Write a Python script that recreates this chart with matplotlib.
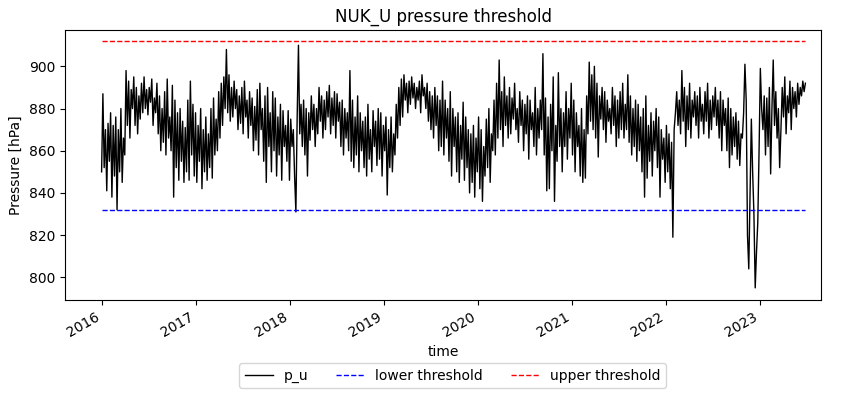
import matplotlib
matplotlib.use("Agg")
import matplotlib.pyplot as plt
import matplotlib.dates as mdates
import numpy as np
import pandas as pd

# p_u readings, ~6 per month
p_2016 = [850, 887, 852, 870, 841, 873,
          855, 878, 838, 872, 848, 876,
          832, 870, 850, 880, 845, 866,
          858, 898, 872, 893, 866, 889,
          880, 895, 872, 890, 868, 886,
          875, 892, 878, 895, 880, 889,
          877, 890, 883, 894, 872, 885,
          878, 892, 868, 886, 860, 880,
          864, 888, 858, 894, 866, 876,
          860, 891, 838, 884, 852, 878,
          846, 880, 855, 874, 845, 871,
          850, 884, 846, 893, 858, 882]
p_2017 = [848, 878, 845, 872, 855, 880,
          842, 870, 850, 876, 846, 868,
          852, 880, 847, 885, 858, 875,
          860, 888, 866, 892, 872, 895,
          880, 908, 878, 896, 874, 890,
          876, 893, 880, 889, 870, 886,
          873, 890, 868, 893, 876, 884,
          866, 888, 872, 885, 860, 881,
          865, 889, 858, 892, 870, 880,
          855, 886, 845, 890, 862, 878,
          850, 888, 860, 885, 848, 876,
          858, 882, 846, 879, 862, 872]
p_2018 = [855, 879, 846, 875, 862, 870,
          848, 831, 876, 910, 868, 882,
          862, 884, 858, 880, 848, 878,
          865, 886, 870, 882, 862, 880,
          868, 890, 874, 886, 866, 884,
          870, 888, 876, 891, 868, 885,
          872, 888, 866, 887, 874, 883,
          862, 884, 858, 880, 866, 878,
          860, 898, 855, 884, 852, 876,
          858, 886, 850, 878, 860, 874,
          852, 876, 848, 882, 856, 870,
          850, 879, 862, 874, 853, 880]
p_2019 = [856, 878, 848, 872, 860, 876,
          839, 870, 852, 876, 850, 868,
          858, 882, 866, 890, 872, 894,
          876, 896, 884, 892, 878, 893,
          882, 895, 885, 892, 880, 890,
          884, 893, 878, 896, 886, 890,
          880, 892, 874, 888, 870, 886,
          866, 890, 872, 886, 860, 884,
          862, 893, 858, 884, 866, 880,
          855, 888, 848, 880, 862, 876,
          850, 878, 845, 872, 856, 883,
          846, 876, 852, 870, 840, 868]
p_2020 = [845, 872, 838, 866, 850, 876,
          842, 870, 836, 862, 848, 875,
          852, 880, 845, 868, 860, 884,
          858, 892, 866, 903, 870, 888,
          862, 895, 872, 886, 866, 890,
          868, 885, 875, 892, 870, 880,
          864, 888, 872, 884, 860, 882,
          868, 886, 856, 884, 870, 878,
          862, 890, 858, 880, 866, 884,
          870, 906, 858, 885, 841, 876,
          842, 882, 860, 895, 836, 872,
          855, 897, 862, 880, 850, 878]
p_2021 = [862, 888, 856, 880, 866, 892,
          858, 884, 850, 878, 862, 872,
          848, 880, 845, 870, 847, 886,
          868, 902, 874, 896, 870, 900,
          866, 892, 857, 886, 875, 890,
          870, 888, 864, 884, 874, 880,
          868, 890, 872, 886, 862, 884,
          866, 888, 870, 892, 866, 882,
          870, 896, 864, 886, 858, 880,
          862, 884, 855, 882, 860, 876,
          850, 880, 838, 886, 847, 872,
          855, 878, 848, 874, 860, 880]
p_2022 = [852, 876, 838, 870, 856, 866,
          845, 872, 850, 868, 842, 864,
          819, 870, 878, 888, 872, 884,
          868, 898, 874, 890, 862, 886,
          870, 892, 866, 884, 876, 888,
          872, 886, 866, 890, 874, 882,
          868, 888, 874, 892, 866, 884,
          870, 886, 876, 890, 872, 884,
          866, 888, 860, 884, 872, 880,
          860, 885, 852, 880, 858, 876,
          862, 878, 856, 874, 853, 868,
          866, 878, 901, 884, 820, 804]
p_2023 = [840, 875, 850, 830, 795, 812,
          826, 860, 899, 880, 870, 886,
          858, 885, 862, 890, 849, 880,
          903, 872, 888, 866, 880, 852,
          870, 890, 876, 895, 868, 886,
          878, 893, 870, 890, 880, 888,
          876, 892, 882, 890, 886, 893,
          888, 892]

lower_threshold = 832
upper_threshold = 912

p_u = p_2016 + p_2017 + p_2018 + p_2019 + p_2020 + p_2021 + p_2022 + p_2023
time = pd.date_range("2016-01-01", "2023-06-25", periods=len(p_u))

fig = plt.figure(figsize=(8.5, 3.98), dpi=100)
ax = fig.add_axes([0.0765, 0.246, 0.8895, 0.679])

ax.plot(time, p_u, color="k", lw=1, label="p_u")
ax.plot(time, np.full(len(time), lower_threshold), color="b", ls="--", lw=1, label="lower threshold")
ax.plot(time, np.full(len(time), upper_threshold), color="r", ls="--", lw=1, label="upper threshold")

ax.set_xlim(pd.Timestamp("2015-08-12"), pd.Timestamp("2023-08-25"))
ax.set_ylim(789.2, 917.3)
ax.set_yticks([800, 820, 840, 860, 880, 900])
ax.xaxis.set_major_locator(mdates.YearLocator())
ax.xaxis.set_major_formatter(mdates.DateFormatter("%Y"))
for lbl in ax.get_xticklabels():
    lbl.set_rotation(30)
    lbl.set_ha("right")

ax.set_title("NUK_U pressure threshold")
ax.set_ylabel("Pressure [hPa]")
ax.set_xlabel("time")
ax.legend(loc="upper center", bbox_to_anchor=(0.5126, -0.207), ncol=3)

fig.savefig("out.png", dpi=100)
